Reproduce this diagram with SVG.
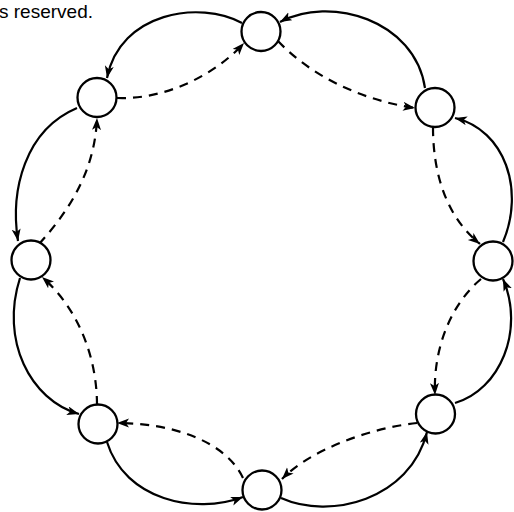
<svg xmlns="http://www.w3.org/2000/svg" width="514" height="512" viewBox="0 0 514 512">
<style>
.node{fill:#fff;stroke:#000;stroke-width:2.3}
.solid{fill:none;stroke:#000;stroke-width:2.2;marker-end:url(#arr)}
.dash{fill:none;stroke:#000;stroke-width:2.2;stroke-dasharray:9 7;marker-end:url(#arr)}
.lbl{font-family:"Liberation Sans",Arial,sans-serif;font-size:19px;fill:#000}
</style>
<defs>
<marker id="arr" markerUnits="userSpaceOnUse" markerWidth="13" markerHeight="10" refX="12" refY="4.5" orient="auto">
<path d="M0,0 L12,4.5 L0,9 L3,4.5 Z" fill="#000"/>
</marker>
</defs>
<rect width="514" height="512" fill="#fff"/>
<text class="lbl" x="-1" y="18">s reserved.</text>
<g id="connectors">
<path class="solid" d="M242,23 C200,0 120,12 107,78"/>
<path class="solid" d="M425,88 C415,20 330,-5 280,22"/>
<path class="solid" d="M503,242 C525,190 505,130 455,118"/>
<path class="solid" d="M455,403 C500,390 525,330 503,279"/>
<path class="solid" d="M281,498 C330,520 410,500 427,432"/>
<path class="solid" d="M107,442 C125,500 195,515 243,497"/>
<path class="solid" d="M20,278 C0,340 30,400 79,414"/>
<path class="solid" d="M77,108 C25,130 10,190 18,241"/>
<path class="dash" d="M278,41 C310,75 360,100 415,108"/>
<path class="dash" d="M433,127 C433,180 450,220 480,244"/>
<path class="dash" d="M481,279 C450,305 433,350 435,395"/>
<path class="dash" d="M417,423 C370,428 310,450 282,479"/>
<path class="dash" d="M243,478 C225,440 170,423 117,423"/>
<path class="dash" d="M97,405 C97,360 80,310 42,277"/>
<path class="dash" d="M39,244 C70,210 95,170 97,118"/>
<path class="dash" d="M117,98 C165,100 215,75 244,43"/>
</g>
<g id="n-top"><circle class="node" cx="261" cy="31.5" r="19.5"/></g>
<g id="n-upper-left"><circle class="node" cx="97" cy="97.5" r="19.5"/></g>
<g id="n-upper-right"><circle class="node" cx="435" cy="107.5" r="19.5"/></g>
<g id="n-left"><circle class="node" cx="31" cy="260" r="19.5"/></g>
<g id="n-right"><circle class="node" cx="493" cy="261" r="19.5"/></g>
<g id="n-lower-left"><circle class="node" cx="98" cy="424" r="19.5"/></g>
<g id="n-lower-right"><circle class="node" cx="435.5" cy="414" r="19.5"/></g>
<g id="n-bottom"><circle class="node" cx="262" cy="490" r="19.5"/></g>
</svg>
